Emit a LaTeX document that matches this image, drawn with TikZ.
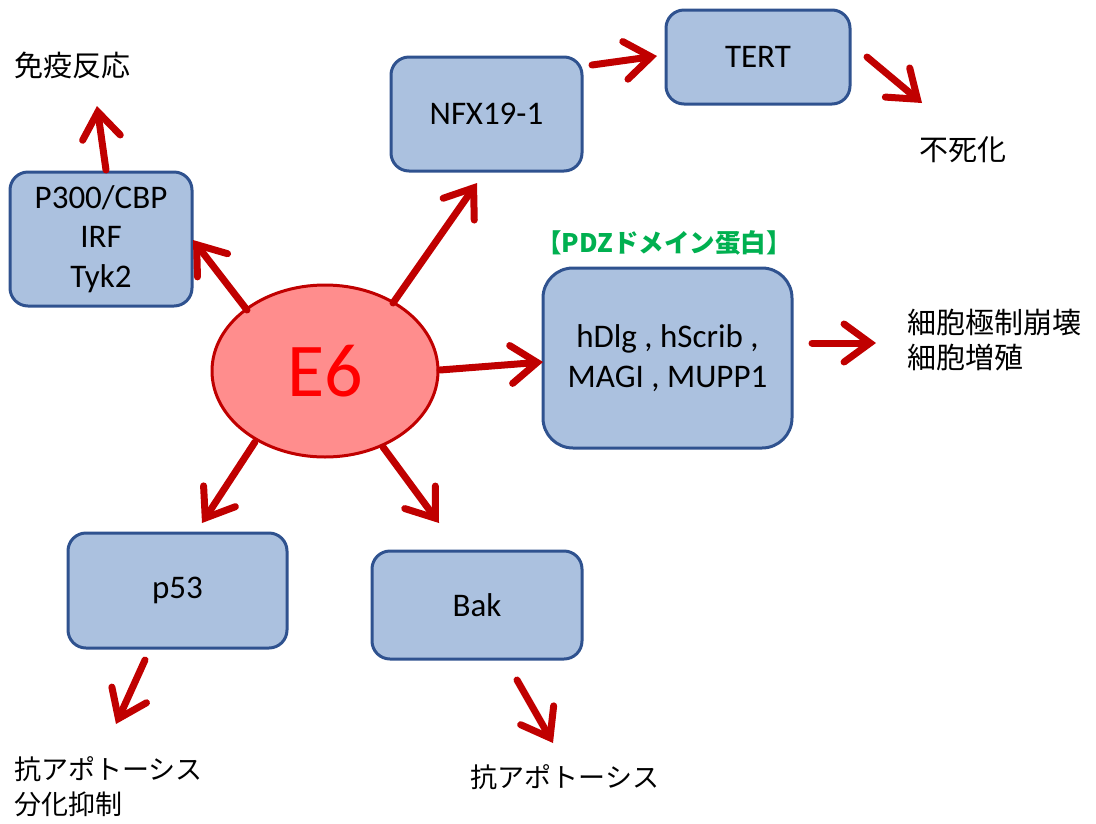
\documentclass[tikz,border=0pt]{standalone}
\usepackage{fontspec}
\setmainfont{Carlito}
\newfontfamily\cjk{Noto Sans CJK JP}
\usetikzlibrary{arrows.meta,shapes.geometric}
\definecolor{boxfill}{RGB}{171,193,223}
\definecolor{boxline}{RGB}{47,82,143}
\definecolor{arrred}{RGB}{192,0,0}
\definecolor{ellfill}{RGB}{255,141,141}
\definecolor{pdzgreen}{RGB}{0,176,80}
\tikzset{
  bx/.style={draw=boxline, fill=boxfill, line width=3pt, rounded corners=18pt, align=center,
    font=\fontsize{33}{39.5}\selectfont, inner sep=0pt},
  arr/.style={draw=arrred, line width=7pt, line cap=round,
    -{Straight Barb[length=26pt, width=38pt, line cap=round, line join=miter]}},
  jp/.style={font=\cjk\fontsize{29}{34.5}\selectfont, inner sep=0pt},
  jpk/.style={font=\cjk\fontsize{27}{35}\selectfont, inner sep=0pt},
}
\begin{document}
\begin{tikzpicture}[x=1pt,y=-1pt]
\useasboundingbox (0,0) rectangle (1096,823);
% nodes
\node[ellipse, draw=arrred, fill=ellfill, line width=3pt, minimum width=226pt, minimum height=172pt,
  inner sep=0pt, text=red, font=\fontsize{76}{80}\selectfont] (e6) at (325,371) {E6};
\node[bx, minimum width=182pt, minimum height=134pt] (p300) at (101,239) {P300/CBP\\IRF\\Tyk2};
\node[bx, minimum width=191pt, minimum height=114pt] (nfx) at (486.5,114) {NFX19-1};
\node[bx, minimum width=184pt, minimum height=94pt] (tert) at (758,57) {TERT};
\node[bx, minimum width=249pt, minimum height=180pt, rounded corners=30pt] (pdz) at (667.5,358) {hDlg , hScrib ,\\MAGI , MUPP1};
\node[bx, minimum width=219pt, minimum height=115pt] (p53) at (177.5,590.5) {p53};
\node[bx, minimum width=210pt, minimum height=108pt] (bak) at (477,605) {Bak};
\node[font=\cjk\bfseries\fontsize{25.5}{30}\selectfont, text=pdzgreen, inner sep=0pt] (pdzlabel) at (664,243) {【PDZドメイン蛋白】};
\node[jp] (immune) at (73,65) {免疫反応};
\node[jp] (immortal) at (963,150) {不死化};
\node[jp, anchor=west, align=left] (polar) at (907,340) {細胞極制崩壊\\細胞増殖};
\node[jpk, anchor=west, align=left] (anti1) at (14,787) {抗アポトーシス\\分化抑制};
\node[jpk] (anti2) at (565,777) {抗アポトーシス};
% arrow endpoints
\coordinate (a1s) at (247,310); \coordinate (a1e) at (193,240);
\coordinate (a2s) at (106,170); \coordinate (a2e) at (97,106);
\coordinate (a3s) at (393,303); \coordinate (a3e) at (477,183);
\coordinate (a4s) at (592,65);  \coordinate (a4e) at (657,56);
\coordinate (a5s) at (867,57);  \coordinate (a5e) at (922,103);
\coordinate (a6s) at (440,370); \coordinate (a6e) at (543,362);
\coordinate (a7s) at (812,343); \coordinate (a7e) at (876,343);
\coordinate (a8s) at (255,442); \coordinate (a8e) at (202,523);
\coordinate (a9s) at (383,447); \coordinate (a9e) at (439,523);
\coordinate (a10s) at (145,660); \coordinate (a10e) at (116,724);
\coordinate (a11s) at (517,680); \coordinate (a11e) at (553,743);
% arrows
\draw[arr] (a1s) -- (a1e);
\draw[arr] (a2s) -- (a2e);
\draw[arr] (a3s) -- (a3e);
\draw[arr] (a4s) -- (a4e);
\draw[arr] (a5s) -- (a5e);
\draw[arr] (a6s) -- (a6e);
\draw[arr] (a7s) -- (a7e);
\draw[arr] (a8s) -- (a8e);
\draw[arr] (a9s) -- (a9e);
\draw[arr] (a10s) -- (a10e);
\draw[arr] (a11s) -- (a11e);
\end{tikzpicture}
\end{document}
